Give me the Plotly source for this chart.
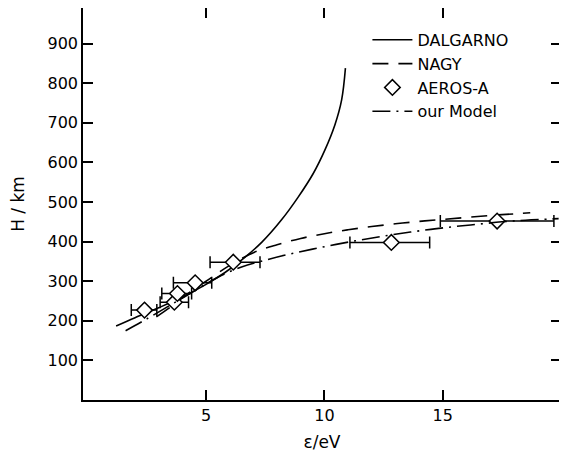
import plotly.graph_objects as go

# DALGARNO curve (eV, km)
dal_x = [1.2, 2.0, 3.0, 4.0, 5.0, 5.8, 6.43, 7.35, 8.19, 8.9, 9.53, 10.02, 10.44, 10.73, 10.89]
dal_y = [187, 208, 233, 260, 292, 322, 350, 398, 455, 513, 572, 631, 694, 758, 838]

# NAGY curve
nagy_x = [2.9, 3.5, 4.0, 4.5, 5.0, 6.0, 7.0, 8.0, 9.0, 10.0, 11.0, 12.0, 13.0, 14.0, 15.0, 16.0, 17.0, 18.0, 18.7]
nagy_y = [210, 235, 258, 280, 300, 340, 372, 392, 408, 420, 430, 438, 445, 451, 456, 461, 466, 470, 473]

# our Model
model_x = [1.6, 2.5, 3.5, 4.5, 5.5, 6.5, 7.5, 8.5, 9.5, 10.5, 11.5, 12.5, 13.5, 14.5, 15.5, 16.5, 17.5, 18.5, 19.9]
model_y = [175, 205, 240, 275, 310, 336, 353, 368, 381, 393, 404, 414, 423, 431, 438, 444, 450, 454, 458]

# AEROS-A measurements with horizontal error bars
aeros_x = [2.4, 3.66, 3.79, 4.54, 6.15, 12.83, 17.3]
aeros_y = [227, 247, 269, 296, 348, 398, 452]
aeros_err_minus = [0.56, 0.6, 0.66, 0.92, 0.98, 1.75, 2.4]
aeros_err_plus = [0.52, 0.6, 0.6, 0.7, 1.13, 1.62, 2.4]

font = "DejaVu Sans"

fig = go.Figure()
fig.add_trace(go.Scatter(x=dal_x, y=dal_y, mode="lines", name="DALGARNO",
                         line=dict(color="black", width=1.6, shape="spline", smoothing=1)))
fig.add_trace(go.Scatter(x=nagy_x, y=nagy_y, mode="lines", name="NAGY",
                         line=dict(color="black", width=1.6, dash="16px,10px", shape="spline")))
fig.add_trace(go.Scatter(x=aeros_x, y=aeros_y, mode="markers", name="AEROS-A",
                         marker=dict(symbol="diamond", size=12, color="white",
                                     line=dict(color="black", width=1.5)),
                         error_x=dict(type="data", symmetric=False, array=aeros_err_plus,
                                      arrayminus=aeros_err_minus, color="black",
                                      thickness=1.5, width=6)))
fig.add_trace(go.Scatter(x=model_x, y=model_y, mode="lines", name="our Model",
                         line=dict(color="black", width=1.6, dash="18px,6px,2px,6px", shape="spline")))

axis_common = dict(showline=True, linecolor="black", linewidth=1.5, mirror="ticks",
                   ticks="inside", ticklen=10, tickwidth=1.5, tickcolor="black",
                   showgrid=False, zeroline=False, automargin=False,
                   tickfont=dict(family=font, size=16, color="black"))

fig.update_xaxes(range=[-0.2, 20], tickvals=[5, 10, 15],
                 title=dict(text="ε/eV", font=dict(family=font, size=17, color="black"), standoff=12),
                 **axis_common)
fig.update_yaxes(range=[0, 990], tickvals=[100, 200, 300, 400, 500, 600, 700, 800, 900],
                 title=dict(text="H / km", font=dict(family=font, size=17, color="black"), standoff=19),
                 **axis_common)

# page body adds an 8px offset, so the figure is sized to fit the window from there
fig.update_layout(
    width=559, height=445,
    margin=dict(l=75, r=6, t=0, b=53),
    plot_bgcolor="white", paper_bgcolor="white",
    legend=dict(x=0.595, y=0.962, xanchor="left", yanchor="top",
                font=dict(family=font, size=16, color="black"),
                bgcolor="rgba(0,0,0,0)", itemwidth=40, tracegroupgap=0),
)

fig.write_html("out.html")
